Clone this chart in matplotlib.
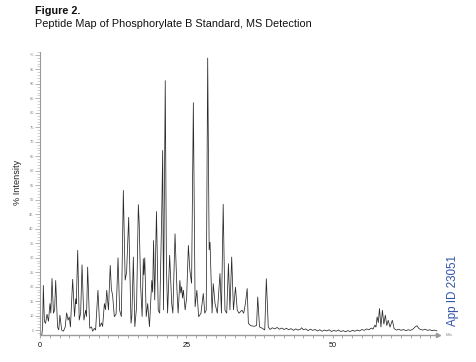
import matplotlib
matplotlib.use("Agg")
import matplotlib.pyplot as plt
from matplotlib.ticker import FixedLocator, MultipleLocator

plt.rcParams['font.family'] = ['Liberation Sans', 'DejaVu Sans']

# Retention time (min) and % intensity, vertices
time_min = [
    0.0, 0.3, 0.45, 0.57, 0.75, 0.95, 1.2, 1.45, 1.7, 1.85, 2.05, 2.3, 2.5, 2.68, 3.0,
    3.2, 3.4, 3.7, 4.0, 4.3, 4.55, 4.8, 5.0, 5.2, 5.58, 5.9, 6.1, 6.2, 6.44, 6.7,
    6.95, 7.18, 7.5, 7.8, 7.95, 8.14, 8.5, 8.8, 9.0, 9.3, 9.5, 9.9, 10.2, 10.5, 10.7,
    11.0, 11.2, 11.4, 11.7, 12.0, 12.2, 12.4, 12.7, 13.0, 13.33, 13.6, 13.9, 14.24, 14.55, 14.8,
    15.15, 15.55, 15.7, 15.95, 16.2, 16.5, 16.8, 16.95, 17.2, 17.45, 17.65, 17.75, 17.9, 18.15, 18.4,
    18.7, 19.1, 19.25, 19.4, 19.6, 19.9, 20.2, 20.45, 20.8, 20.96, 21.1, 21.4, 21.6, 21.8, 22.15,
    22.5, 22.7, 23.07, 23.4, 23.6, 23.9, 24.05, 24.2, 24.35, 24.5, 24.8, 25.05, 25.35, 25.6, 25.9,
    26.2, 26.5, 26.8, 27.1, 27.5, 27.9, 28.15, 28.4, 28.65, 28.9, 29.05, 29.4, 29.6, 29.9, 30.3,
    30.75, 31.0, 31.3, 31.6, 31.9, 32.2, 32.45, 32.75, 33.05, 33.4, 33.7, 34.0, 34.5, 34.8, 35.1,
    35.4, 35.6, 36.0, 36.6, 37.0, 37.2, 37.5, 38.0, 38.4, 38.67, 39.0, 39.3, 39.7, 40.1, 40.5,
    40.9, 41.3, 41.7, 42.1, 42.5, 42.9, 43.3, 43.7, 44.1, 44.5, 44.7, 45.0, 45.4, 45.8, 46.2,
    46.6, 47.0, 47.4, 47.8, 48.2, 48.6, 49.0, 49.4, 49.8, 50.2, 50.6, 51.0, 51.4, 51.8, 52.2,
    52.6, 53.0, 53.4, 53.8, 54.2, 54.6, 55.0, 55.4, 55.8, 56.2, 56.6, 56.9, 57.2, 57.4, 57.6,
    57.8, 58.0, 58.25, 58.5, 58.75, 59.0, 59.25, 59.5, 59.8, 60.2, 60.5, 60.9, 61.3, 61.7, 62.1,
    62.5, 62.9, 63.3, 63.7, 64.1, 64.4, 64.7, 65.0, 65.4, 65.8, 66.2, 66.6, 67.0, 67.4, 67.8,
]
intensity = [
    3.5, 3.2, 6.0, 20.5, 8.0, 7.3, 10.5, 8.0, 14.2, 10.8, 22.9, 10.8, 12.0, 22.2, 6.1,
    5.0, 10.2, 5.0, 4.6, 6.0, 11.0, 8.4, 9.6, 6.0, 22.6, 9.6, 15.9, 14.0, 32.6, 8.4,
    11.0, 27.6, 8.4, 11.9, 9.6, 26.8, 5.6, 6.1, 4.6, 5.6, 5.0, 18.8, 6.1, 7.5, 6.2,
    14.2, 12.0, 18.8, 11.9, 27.4, 19.0, 17.1, 9.6, 10.5, 30.0, 11.9, 9.6, 53.3, 22.2, 25.0,
    44.0, 7.3, 10.0, 30.3, 6.1, 13.0, 48.4, 41.8, 20.0, 9.6, 29.7, 24.0, 30.0, 9.6, 14.2,
    6.1, 22.2, 18.0, 36.0, 15.3, 46.0, 11.9, 10.8, 45.4, 67.1, 11.9, 91.2, 26.8, 10.8, 30.9,
    14.2, 10.8, 38.3, 18.8, 10.8, 22.2, 17.7, 20.0, 16.0, 18.8, 11.9, 16.0, 34.3, 25.7, 21.1,
    83.6, 13.0, 18.8, 9.6, 10.8, 17.7, 10.8, 11.9, 99.0, 32.6, 35.4, 10.8, 21.1, 14.2, 10.8,
    24.6, 10.8, 48.5, 11.9, 10.8, 28.0, 11.9, 30.3, 11.9, 19.9, 11.9, 10.8, 11.9, 10.8, 14.2,
    19.4, 7.3, 6.5, 6.3, 6.6, 16.5, 6.1, 5.6, 5.0, 22.8, 6.1, 5.2, 5.8, 5.4, 5.9,
    5.3, 5.7, 5.2, 5.6, 5.1, 5.5, 4.9, 5.4, 5.0, 5.3, 5.8, 5.1, 5.4, 4.8, 5.3,
    4.9, 5.2, 4.7, 5.1, 4.6, 5.0, 4.7, 5.1, 4.5, 4.9, 4.6, 5.0, 4.5, 4.8, 4.4,
    4.8, 4.5, 4.9, 4.6, 5.0, 4.7, 5.2, 4.9, 5.4, 5.1, 5.7, 5.3, 6.7, 6.0, 9.6,
    7.5, 12.5, 6.0, 11.9, 7.0, 10.2, 6.5, 8.4, 6.0, 8.4, 5.5, 5.0, 5.3, 4.9, 5.2,
    4.8, 5.1, 4.9, 5.3, 6.1, 6.5, 5.6, 5.2, 5.0, 5.3, 4.9, 5.1, 4.8, 5.0, 4.7,
]

x_major = [0, 25, 50]
x_labels = ["0", "25", "50"]
y_major = [5, 10, 15, 20, 25, 30, 35, 40, 45, 50, 55, 60, 65, 70, 75, 80, 85, 90, 95, 100]
y_labels = [str(v) for v in y_major[:-1]] + ["%"]

W, H = 477, 362
fig = plt.figure(figsize=(W / 100, H / 100), dpi=100)
ax = fig.add_axes([40 / W, 1 - 334.7 / H, (438 - 40) / W, (334.7 - 52) / H])

ax.plot(time_min, intensity, color='#2a2a2a', lw=0.55, solid_joinstyle='miter')

ax.set_xlim(0, 68.0)
ax.set_ylim(3.4, 101)

for s in ['top', 'right']:
    ax.spines[s].set_visible(False)
axis_grey = '#9a9a9a'
ax.spines['left'].set_color(axis_grey)
ax.spines['left'].set_linewidth(0.8)
ax.spines['bottom'].set_color(axis_grey)
ax.spines['bottom'].set_linewidth(1.0)

ax.xaxis.set_major_locator(FixedLocator(x_major))
ax.set_xticklabels(x_labels)
ax.xaxis.set_minor_locator(MultipleLocator(25 / 15))
ax.tick_params(axis='x', which='major', length=2, width=0.6, color=axis_grey,
               labelsize=5.2, pad=3, labelcolor='#111111')
ax.tick_params(axis='x', which='minor', length=2, width=0.6, color=axis_grey)

ax.yaxis.set_major_locator(FixedLocator(y_major))
ax.set_yticklabels(y_labels)
ax.yaxis.set_minor_locator(MultipleLocator(1))
ax.tick_params(axis='y', which='major', length=3.5, width=0.5, color=axis_grey,
               labelsize=2.9, pad=1, labelcolor='#8a8a8a')
ax.tick_params(axis='y', which='minor', length=2.2, width=0.4, color='#b0b0b0')

# axis arrow and unit
ax.plot([68.0], [3.4], marker='>', markersize=3, color=axis_grey, clip_on=False)
ax.text(1.018, 0.0, "Min", transform=ax.transAxes, fontsize=3.2, color='#8a8a8a',
        va='center', ha='left')

ax.set_ylabel("% Intensity", fontsize=6.6, color='#222222', labelpad=8)
ax.yaxis.set_label_coords(-(40 - 22) / (438 - 40), (334.7 - 182) / (334.7 - 52))

fig.text(35 / W, 1 - 11 / H, "Figure 2.", fontsize=7.8, fontweight='bold',
         va='center', ha='left', color='#111111')
fig.text(35 / W, 1 - 24 / H, "Peptide Map of Phosphorylate B Standard, MS Detection",
         fontsize=7.8, va='center', ha='left', color='#111111')
fig.text(453 / W, 1 - 290 / H, "App ID 23051", rotation=90, fontsize=8.4,
         color='#2f52a8', va='center', ha='center')

fig.savefig("out.png", dpi=100)
